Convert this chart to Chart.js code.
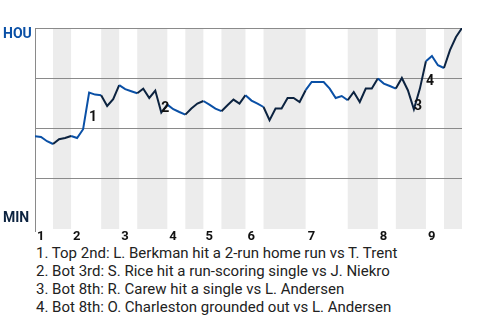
<!DOCTYPE html>
<html>
<head>
<meta charset="utf-8">
<script src="https://cdn.jsdelivr.net/npm/chart.js@4"></script>
<style>
    body { margin: 0; background: #fff; font-family: Roboto, sans-serif; }
    #wrap { width: 480px; height: 244px; }
    #wpChart { display: block; }
    #events { padding-left: 36px; font-size: 15px; line-height: 18px; color: #222; }
</style>
</head>
<body>
<div id="wrap"><canvas id="wpChart" width="480" height="244"></canvas></div>
<div id="events"></div>
<script>
// HOU win probability (%) after each plate appearance
const winProb = [45.9, 45.5, 43.4, 42, 44.4, 45, 46, 45, 49.4, 67.7,
    66.7, 66.4, 61, 64.4, 71.4, 69.4, 68.4, 67.4, 69.7, 65,
    68.7, 57.7, 61.7, 59.4, 58, 56.7, 59.7, 62.2, 63.5, 61.7,
    59.7, 58.4, 61.4, 64.2, 62.2, 66.4, 63.7, 62.2, 60.5, 53.9,
    59.7, 59.7, 65, 65, 63, 68.9, 73, 73, 73, 69.7,
    65, 66, 63.9, 68, 63, 69.7, 69.7, 74.7, 72.2, 71,
    69.7, 75, 68.9, 59.4, 69.7, 83.4, 86, 81.4, 80, 88.9,
    95.5, 100];

// play index where each half inning starts (top 1st ... bot 9th, then end)
const halfStarts = [0, 3, 6, 11, 14, 17, 22, 25, 28, 31, 35, 38, 45, 52, 57, 60, 65, 68, 71];
const innings = ['1', '2', '3', '4', '5', '6', '7', '8', '9'];

const teams = ['HOU', 'MIN'];
const gridValues = [100, 75, 50, 25];

// key plays: index of the play that ends each swing
const eventPlays = [9, 21, 63, 65];
const eventTexts = [
    'Top 2nd: L. Berkman hit a 2-run home run vs T. Trent',
    'Bot 3rd: S. Rice hit a run-scoring single vs J. Niekro',
    'Bot 8th: R. Carew hit a single vs L. Andersen',
    'Bot 8th: O. Charleston grounded out vs L. Andersen'
];

const awayColor = '#0a50a6';
const homeColor = '#0c2340';

function halfOf(i) {
    let k = 0;
    while (k < halfStarts.length - 2 && halfStarts[k + 1] <= i) k++;
    return k;
}

const backdrop = {
    id: 'backdrop',
    beforeDatasetsDraw(chart) {
        const { ctx, chartArea: a, scales: { x, y } } = chart;
        ctx.save();
        // shade bottom halves
        ctx.fillStyle = '#ececec';
        for (let k = 1; k < halfStarts.length - 1; k += 2) {
            const x0 = x.getPixelForValue(halfStarts[k]);
            const x1 = x.getPixelForValue(halfStarts[k + 1]);
            ctx.fillRect(x0, a.top, x1 - x0, a.bottom - a.top + 1);
        }
        ctx.strokeStyle = '#8a8a8a';
        ctx.lineWidth = 1;
        gridValues.forEach(v => {
            const py = Math.round(y.getPixelForValue(v)) + 0.5;
            ctx.beginPath();
            ctx.moveTo(a.left, py);
            ctx.lineTo(a.right, py);
            ctx.stroke();
        });
        const lx = Math.round(a.left) + 0.5;
        ctx.beginPath();
        ctx.moveTo(lx, a.top);
        ctx.lineTo(lx, a.bottom + 4);
        ctx.stroke();
        ctx.restore();
    },
    afterDatasetsDraw(chart) {
        const { ctx, chartArea: a, scales: { x, y } } = chart;
        ctx.save();
        ctx.textBaseline = 'middle';
        ctx.textAlign = 'left';

        // team labels
        ctx.font = 'bold 14px Roboto';
        ctx.fillStyle = awayColor;
        ctx.fillText(teams[0], 3, y.getPixelForValue(100) + 6);
        ctx.fillStyle = homeColor;
        ctx.fillText(teams[1], 3, y.getPixelForValue(0) - 10);

        // inning numbers
        ctx.font = 'bold 13px Roboto';
        ctx.fillStyle = '#111';
        innings.forEach((n, i) => {
            ctx.fillText(n, x.getPixelForValue(halfStarts[i * 2]) + 2, a.bottom + 9);
        });

        // event markers
        ctx.font = 'bold 14px Roboto';
        eventPlays.forEach((p, i) => {
            const mx = (x.getPixelForValue(p - 1) + x.getPixelForValue(p)) / 2;
            const my = (y.getPixelForValue(winProb[p - 1]) + y.getPixelForValue(winProb[p])) / 2;
            ctx.fillText(String(i + 1), mx + 3, my + 7);
        });
        ctx.restore();
    }
};

const ctx = document.getElementById('wpChart').getContext('2d');
new Chart(ctx, {
    type: 'line',
    data: {
        datasets: [{
            data: winProb.map((v, i) => ({ x: i, y: v })),
            borderWidth: 2,
            pointRadius: 0,
            tension: 0,
            borderColor: awayColor,
            segment: {
                borderColor: c => (halfOf(c.p0DataIndex) % 2 === 0 ? awayColor : homeColor)
            }
        }]
    },
    options: {
        responsive: false,
        animation: false,
        layout: { padding: { left: 35, right: 18, top: 28, bottom: 16 } },
        plugins: { legend: { display: false }, tooltip: { enabled: false } },
        scales: {
            x: { type: 'linear', min: 0, max: halfStarts[halfStarts.length - 1], display: false },
            y: { min: 0, max: 100, display: false }
        }
    },
    plugins: [backdrop]
});

document.getElementById('events').innerHTML = eventTexts
    .map((t, i) => `<div>${i + 1}. ${t}</div>`).join('');
</script>
</body>
</html>
